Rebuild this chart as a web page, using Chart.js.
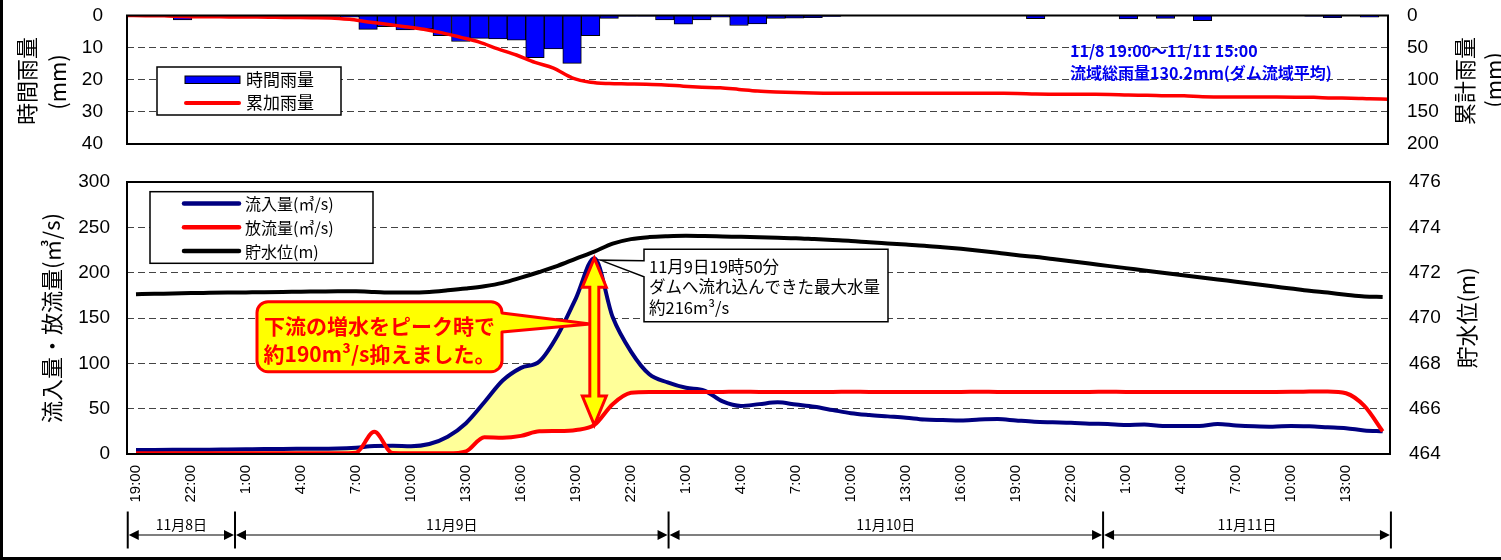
<!DOCTYPE html>
<html><head><meta charset="utf-8">
<script src="https://cdn.jsdelivr.net/npm/chart.js@4.4.1/dist/chart.umd.min.js"></script>
<style>
html,body{margin:0;padding:0;background:#fff;}
#wrap{position:relative;width:1501px;height:560px;overflow:hidden;background:#fff;}
#c1{position:absolute;left:0;top:0;width:1501px;height:160px;}
#c2{position:absolute;left:0;top:160px;width:1501px;height:400px;}
#bl{position:absolute;left:0;top:0;width:3px;height:560px;background:#000;}
#bb{position:absolute;left:0;top:557px;width:1501px;height:3px;background:#000;}
</style></head><body>
<div id="wrap">
<canvas id="c1" width="1501" height="160"></canvas>
<canvas id="c2" width="1501" height="400"></canvas>
<div id="bl"></div><div id="bb"></div>
</div>
<script>
// ---- data (hours since 11/8 19:00) ----
const hours = [0,1,2,3,4,5,6,7,8,9,10,11,12,13,14,15,16,17,18,19,20,21,22,23,24,25,26,27,28,29,30,31,32,33,34,35,36,37,38,39,40,41,42,43,44,45,46,47,48,49,50,51,52,53,54,55,56,57,58,59,60,61,62,63,64,65,66,67,68];
const rainHourly = [0,0,0,1.4,0.2,0.2,0.2,0.2,0.3,0.3,
  0.3,0.3,0.5,4.3,3.5,4.5,4.2,6.3,8.1,7.1,
  7.3,7.7,13.1,10.4,14.9,6.3,0.9,0.2,0.2,1.4,
  2.7,1.4,0.5,3.1,2.6,0.9,0.8,0.7,0.3,0,
  0,0,0,0,0,0,0,0,0.1,1.0,
  0.1,0.1,0.1,0.1,1.1,0.1,0.9,0.1,1.6,0.1,
  0.1,0.1,0.1,0.1,0.2,0.7,0.1,0.5,0];
const rainCumulative = [0,0.2,0.4,1.6,1.9,2.1,2.3,2.5,2.8,3.1,
  3.4,3.7,6,10,13.5,17.5,21.5,27,34,41.5,
  52,61.5,73,82,97,104,106,106.5,107,108,
  110,111.5,112.5,115,117.5,119,120,120.7,121,121,
  121,121,121,121,121,121,121,121.1,121.3,122.3,
  122.5,122.6,122.7,122.8,123.9,124,124.9,125,126.6,126.7,
  126.8,126.9,127,127.1,127.3,128.5,128.6,129.5,130.2];
const inflow = [4.4,4.5,4.6,4.7,4.8,5.0,5.2,5.4,5.6,5.7,
  5.8,6.0,7.0,8.8,9.0,8.6,11,19,34,57,
  81,95,102,131,172,216,151,113,88,79,
  73,70,58,53,55,57,54.5,52,48.5,45,
  43,41.5,40,38,37.5,37,38,38.5,37,35.6,
  35,34.5,33.5,33,32,32.5,31,31,31,33,
  31.5,30.5,30,31,30.5,29.5,28.5,26,25];
const outflow = [0.8,0.8,0.8,0.8,0.8,0.8,0.8,0.8,0.8,0.8,
  0.8,0.8,1.5,24.5,1,0.8,0.8,0.8,3,18.5,
  18,20,25,25.3,26.5,32,55,67.5,68.5,68.5,
  68.5,68.4,68.5,68.6,68.5,68.5,68.4,68.5,68.5,68.6,
  68.5,68.5,68.4,68.5,68.5,68.5,68.6,68.5,68.5,68.4,
  68.5,68.5,68.5,68.6,68.5,68.5,68.4,68.5,68.5,68.5,
  68.5,68.5,68.5,68.6,68.8,69,67,53,25];
const waterLevel = [471.05,471.07,471.08,471.1,471.11,471.12,471.13,471.14,471.15,471.16,
  471.17,471.18,471.18,471.15,471.12,471.12,471.15,471.22,471.3,471.4,
  471.55,471.78,472.03,472.3,472.62,472.93,473.28,473.48,473.57,473.61,
  473.63,473.62,473.6,473.58,473.56,473.54,473.52,473.48,473.44,473.4,
  473.34,473.29,473.24,473.19,473.12,473.05,472.97,472.88,472.78,472.7,
  472.6,472.5,472.4,472.3,472.2,472.1,472.0,471.9,471.8,471.7,
  471.6,471.5,471.4,471.3,471.2,471.12,471.03,470.95,470.93];
const xTickHours = [0,3,6,9,12,15,18,21,24,27,30,33,36,39,42,45,48,51,54,57,60,63,66];
const xTickLabels = ['19:00','22:00','1:00','4:00','7:00','10:00','13:00','16:00','19:00','22:00','1:00','4:00','7:00','10:00','13:00','16:00','19:00','22:00','1:00','4:00','7:00','10:00','13:00'];
const dayLabels = ['11月8日','11月9日','11月10日','11月11日'];
const dayBounds = [-0.45, 5.4, 29.05, 52.75, 68.45];
const peakIndex = 25;
const rainNote = ['11/8 19:00～11/11 15:00','流域総雨量130.2mm(ダム流域平均)'];
const cutNote = ['下流の増水をピーク時で','約190m³/s抑えました。'];
const peakNote = ['11月9日19時50分','ダムへ流れ込んできた最大水量','約216m³/s'];

const CJK = '"Noto Sans CJK JP","Noto Sans CJK SC",sans-serif';
Chart.defaults.font.family = '"Liberation Sans", Arial, sans-serif';
Chart.defaults.color = '#000';
const pts = arr => hours.map((h,i)=>({x:h,y:arr[i]}));

function vtext(ctx, txt, cx, cy, font){
  ctx.save(); ctx.translate(cx,cy); ctx.rotate(-Math.PI/2);
  ctx.font = font; ctx.fillStyle='#000'; ctx.textAlign='center'; ctx.textBaseline='middle';
  ctx.fillText(txt,0,0); ctx.restore();
}

const topDecor = {
  id:'topDecor',
  afterDatasetsDraw(chart){
    const {ctx, chartArea:a} = chart;
    ctx.save();
    ctx.strokeStyle='#000'; ctx.lineWidth=2;
    ctx.strokeRect(a.left,a.top,a.right-a.left,a.bottom-a.top);
    // legend
    ctx.fillStyle='#fff'; ctx.fillRect(157,67,184,48);
    ctx.lineWidth=1.5; ctx.strokeRect(157,67,184,48);
    ctx.fillStyle='#0000ff'; ctx.fillRect(185,76,55,7.5);
    ctx.lineWidth=1; ctx.strokeStyle='#000'; ctx.strokeRect(185,76,55,7.5);
    ctx.strokeStyle='#ff0000'; ctx.lineWidth=4; ctx.lineCap='round';
    ctx.beginPath(); ctx.moveTo(186,103); ctx.lineTo(239,103); ctx.stroke();
    ctx.fillStyle='#000'; ctx.font='17px '+CJK; ctx.textBaseline='middle'; ctx.textAlign='left';
    ctx.fillText('時間雨量',246,80);
    ctx.fillText('累加雨量',246,103);
    // note
    ctx.fillStyle='#0000ee'; ctx.font='bold 16px '+CJK;
    ctx.fillText(rainNote[0],1070,51);
    ctx.fillText(rainNote[1],1070,73);
    ctx.restore();
  },
  afterDraw(chart){
    const ctx = chart.ctx;
    vtext(ctx,'時間雨量',26.5,81,'22px '+CJK);
    vtext(ctx,'(mm)',58,82,'22px '+CJK);
    vtext(ctx,'累計雨量',1465,81,'22px '+CJK);
    vtext(ctx,'(mm)',1494,80,'22px '+CJK);
  }
};

new Chart(document.getElementById('c1'), {
  type:'bar',
  data:{datasets:[
    {type:'line', label:'累加雨量', data:pts(rainCumulative), yAxisID:'y2', borderColor:'#ff0000', borderWidth:3.5, pointRadius:0, cubicInterpolationMode:'monotone', order:0},
    {type:'bar', label:'時間雨量', data:pts(rainHourly), yAxisID:'y', backgroundColor:'#0000ff', borderColor:'#000', borderWidth:1, barPercentage:1, categoryPercentage:1, order:1}
  ]},
  options:{
    responsive:false, animation:false, devicePixelRatio:1,
    layout:{padding:{top:15.5,bottom:16,left:0,right:0}},
    plugins:{legend:{display:false}, tooltip:{enabled:false}},
    scales:{
      x:{type:'linear', min:0, max:68, offset:false, display:false},
      y:{position:'left', reverse:true, min:0, max:40,
         ticks:{stepSize:10, padding:0, font:{size:19}, color:'#000'},
         grid:{color:'#444', lineWidth:1, drawTicks:true, tickLength:24, tickColor:'rgba(0,0,0,0)'},
         border:{display:false, dash:[7,4]},
         afterFit(s){s.width=127;}},
      y2:{position:'right', reverse:true, min:0, max:200,
         ticks:{stepSize:50, padding:0, font:{size:19}, color:'#000'},
         grid:{display:true, drawOnChartArea:false, drawTicks:true, tickLength:19, tickColor:'rgba(0,0,0,0)'}, border:{display:false},
         afterFit(s){s.width=113;}}
    }
  },
  plugins:[topDecor]
});

const bottomDecor = {
  id:'bottomDecor',
  afterDatasetsDraw(chart){
    const {ctx, chartArea:a, scales} = chart;
    const xs = scales.x, ys = scales.y;
    const O = 160;
    ctx.save();
    ctx.strokeStyle='#000'; ctx.lineWidth=2;
    ctx.strokeRect(a.left,a.top,a.right-a.left,a.bottom-a.top);

    const px = xs.getPixelForValue(hours[peakIndex]);
    const yT = ys.getPixelForValue(inflow[peakIndex]);
    const yB = ys.getPixelForValue(outflow[peakIndex]);

    // red/yellow callout
    {
      const x0=257,x1=502,y0=301.7-O,y1=371.7-O,r=11;
      const p1=313-O,p2=332-O,tx=px-4,ty=324-O;
      ctx.beginPath();
      ctx.moveTo(x0+r,y0); ctx.lineTo(x1-r,y0); ctx.arcTo(x1,y0,x1,y0+r,r);
      ctx.lineTo(x1,p1); ctx.lineTo(tx,ty); ctx.lineTo(x1,p2);
      ctx.lineTo(x1,y1-r); ctx.arcTo(x1,y1,x1-r,y1,r);
      ctx.lineTo(x0+r,y1); ctx.arcTo(x0,y1,x0,y1-r,r);
      ctx.lineTo(x0,y0+r); ctx.arcTo(x0,y0,x0+r,y0,r); ctx.closePath();
      ctx.fillStyle='#ffff00'; ctx.fill();
      ctx.strokeStyle='#ff0000'; ctx.lineWidth=3; ctx.lineJoin='round'; ctx.stroke();
      ctx.fillStyle='#ff0000'; ctx.font='bold 21px '+CJK; ctx.textAlign='center'; ctx.textBaseline='middle';
      ctx.fillText(cutNote[0],(x0+x1)/2,326-O);
      ctx.fillText(cutNote[1],(x0+x1)/2,354-O);
    }
    // peak callout
    {
      const x0=644,x1=888,y0=249.3-O,y1=321.7-O;
      const p1=260.7-O,p2=276.7-O,tx=px+6,ty=yT+2;
      ctx.beginPath();
      ctx.moveTo(x0,p1); ctx.lineTo(x0,y0); ctx.lineTo(x1,y0); ctx.lineTo(x1,y1); ctx.lineTo(x0,y1);
      ctx.lineTo(x0,p2); ctx.lineTo(tx,ty); ctx.closePath();
      ctx.fillStyle='#fff'; ctx.fill();
      ctx.strokeStyle='#000'; ctx.lineWidth=1.5; ctx.lineJoin='miter'; ctx.stroke();
      ctx.fillStyle='#000'; ctx.font='16.5px '+CJK; ctx.textAlign='left'; ctx.textBaseline='middle';
      ctx.fillText(peakNote[0],649,266.7-O);
      ctx.fillText(peakNote[1],649,286.7-O);
      ctx.fillText(peakNote[2],649,307.5-O);
    }
    // double arrow
    {
      const sw=4.5, hw=12, hl=29;
      ctx.beginPath();
      ctx.moveTo(px,yT); ctx.lineTo(px+hw,yT+hl); ctx.lineTo(px+sw,yT+hl);
      ctx.lineTo(px+sw,yB-hl); ctx.lineTo(px+hw,yB-hl); ctx.lineTo(px,yB);
      ctx.lineTo(px-hw,yB-hl); ctx.lineTo(px-sw,yB-hl); ctx.lineTo(px-sw,yT+hl);
      ctx.lineTo(px-hw,yT+hl); ctx.closePath();
      ctx.fillStyle='#ffff00'; ctx.fill();
      ctx.strokeStyle='#ff0000'; ctx.lineWidth=3; ctx.lineJoin='miter'; ctx.stroke();
    }
    // legend
    ctx.fillStyle='#fff'; ctx.fillRect(150,191.7-O,223,71.6);
    ctx.strokeStyle='#000'; ctx.lineWidth=1.5; ctx.strokeRect(150,191.7-O,223,71.6);
    const leg = [['#000080','流入量(㎥/s)',203.5],['#ff0000','放流量(㎥/s)',227.3],['#000','貯水位(m)',251]];
    ctx.lineCap='round';
    leg.forEach(([c,t,y])=>{
      ctx.strokeStyle=c; ctx.lineWidth=4.5;
      ctx.beginPath(); ctx.moveTo(184,y-O); ctx.lineTo(239,y-O); ctx.stroke();
      ctx.fillStyle='#000'; ctx.font='16px '+CJK; ctx.textAlign='left'; ctx.textBaseline='middle';
      ctx.fillText(t,245,y-O+0.5);
    });
    ctx.restore();
  },
  afterDraw(chart){
    const {ctx, scales} = chart;
    const xs = scales.x;
    vtext(ctx,'流入量・放流量(㎥/s)',52,158,'22px '+CJK);
    vtext(ctx,'貯水位(m)',1467,158,'22px '+CJK);
    // date row
    ctx.save();
    const yLine=375, yTop=351.5, yBot=388.5, yText=365;
    const bx = dayBounds.map(v=>xs.getPixelForValue(v));
    ctx.strokeStyle='#000'; ctx.lineWidth=2;
    bx.forEach(x=>{ctx.beginPath(); ctx.moveTo(x,yTop); ctx.lineTo(x,yBot); ctx.stroke();});
    for(let i=0;i<dayLabels.length;i++){
      const x0=bx[i]+1, x1=bx[i+1]-1;
      ctx.strokeStyle='#555'; ctx.lineWidth=1.5;
      ctx.beginPath(); ctx.moveTo(x0+8,yLine); ctx.lineTo(x1-8,yLine); ctx.stroke();
      ctx.fillStyle='#000';
      ctx.beginPath(); ctx.moveTo(x0,yLine); ctx.lineTo(x0+10,yLine-5); ctx.lineTo(x0+10,yLine+5); ctx.closePath(); ctx.fill();
      ctx.beginPath(); ctx.moveTo(x1,yLine); ctx.lineTo(x1-10,yLine-5); ctx.lineTo(x1-10,yLine+5); ctx.closePath(); ctx.fill();
      ctx.font='14px '+CJK; ctx.textAlign='center'; ctx.textBaseline='middle';
      ctx.fillText(dayLabels[i],(bx[i]+bx[i+1])/2,yText);
    }
    ctx.restore();
  }
};

new Chart(document.getElementById('c2'), {
  type:'line',
  data:{datasets:[
    {label:'放流量', data:pts(outflow), yAxisID:'y', borderColor:'#ff0000', borderWidth:4, pointRadius:0, cubicInterpolationMode:'monotone', fill:false, order:0},
    {label:'流入量', data:pts(inflow), yAxisID:'y', borderColor:'#000080', borderWidth:4, pointRadius:0, cubicInterpolationMode:'monotone', fill:{target:0, above:'#ffff99', below:'rgba(0,0,0,0)'}, order:1},
    {label:'貯水位', data:pts(waterLevel), yAxisID:'y2', borderColor:'#000', borderWidth:4, pointRadius:0, cubicInterpolationMode:'monotone', fill:false, order:2}
  ]},
  options:{
    responsive:false, animation:false, devicePixelRatio:1,
    layout:{padding:{top:22,bottom:0,left:0,right:0}},
    plugins:{legend:{display:false}, tooltip:{enabled:false}, filler:{drawTime:'beforeDatasetsDraw', propagate:false}},
    scales:{
      x:{type:'linear', min:-0.49, max:68.4,
         afterBuildTicks(s){ s.ticks = xTickHours.map(v=>({value:v})); },
         ticks:{autoSkip:false, maxRotation:90, minRotation:90, padding:0, font:{size:15}, color:'#000',
           callback(v){ const i=xTickHours.indexOf(v); return i>=0 ? xTickLabels[i] : ''; }},
         grid:{display:true, drawOnChartArea:false, drawTicks:true, tickLength:11, tickColor:'rgba(0,0,0,0)'}, border:{display:false},
         afterFit(s){s.height=106;}},
      y:{position:'left', min:0, max:300,
         ticks:{stepSize:50, padding:0, font:{size:19}, color:'#000'},
         grid:{color:'#444', lineWidth:1, drawTicks:true, tickLength:17, tickColor:'rgba(0,0,0,0)'},
         border:{display:false, dash:[7,4]},
         afterFit(s){s.width=127;}},
      y2:{position:'right', min:464, max:476,
         ticks:{stepSize:2, padding:0, font:{size:19}, color:'#000'},
         grid:{display:true, drawOnChartArea:false, drawTicks:true, tickLength:19, tickColor:'rgba(0,0,0,0)'}, border:{display:false},
         afterFit(s){s.width=111;}}
    }
  },
  plugins:[bottomDecor]
});
</script>
</body></html>
